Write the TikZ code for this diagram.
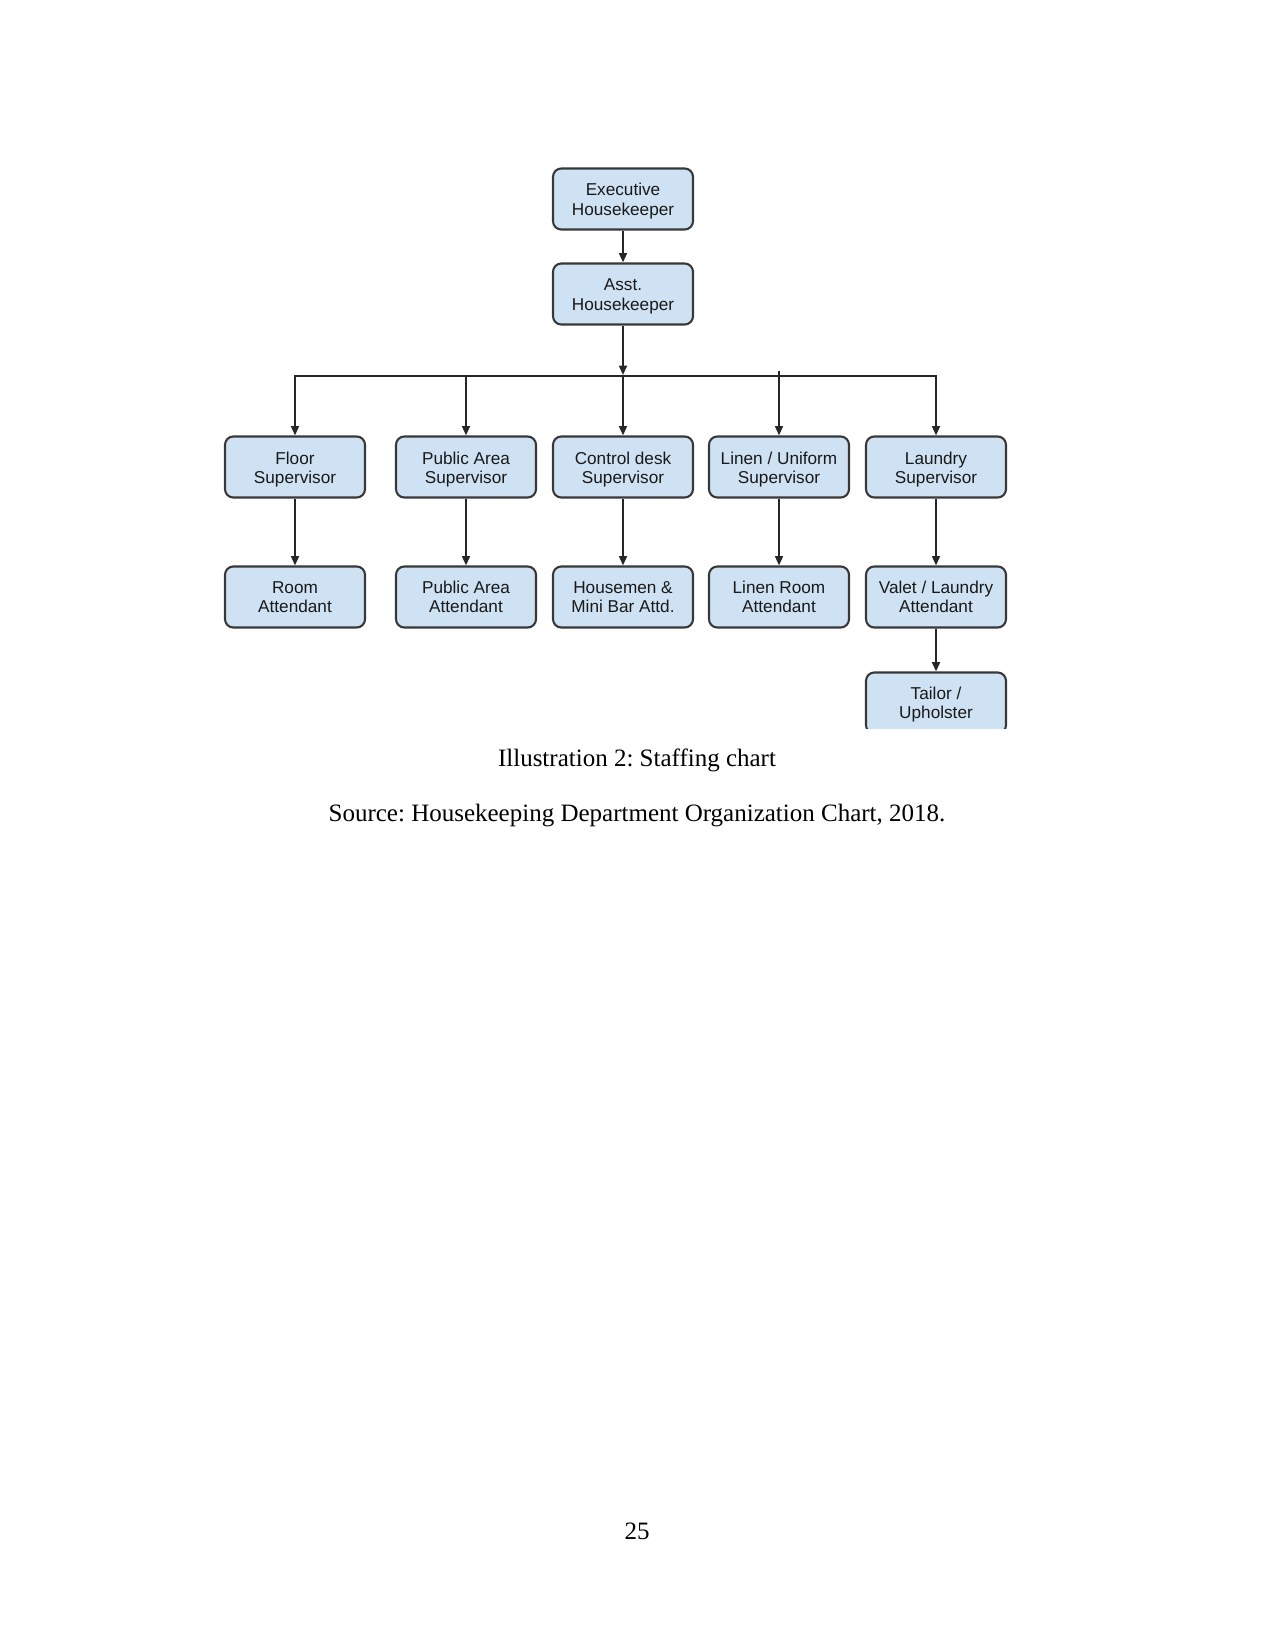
\documentclass[tikz,border=0pt]{standalone}
\usepackage{fontspec}
\setmainfont{Liberation Serif}
\newfontfamily\boxfont{Liberation Sans}
\usetikzlibrary{arrows.meta}
\definecolor{boxfill}{HTML}{CFE2F3}
\definecolor{boxline}{HTML}{383838}
\newcommand\twoline[3][1.2pt]{\raisebox{-#1}[\height][\depth]{\begin{tabular}{@{}c@{}}#2\\#3\end{tabular}}}
\begin{document}
\frenchspacing
\begin{tikzpicture}[x=0.48pt,y=-0.48pt,
  staff/.style={draw=boxline, line width=1pt, fill=boxfill, rounded corners=4pt,
    minimum width=67.2pt, minimum height=29.3pt, inner sep=0pt,
    font=\boxfont\fontsize{8.25}{9.3}\selectfont, text=black!90},
  link/.style={draw=black!85, line width=0.9pt, -{Triangle[length=4.5pt,width=3.8pt]}},
  bus/.style={draw=black!85, line width=0.9pt, line cap=rect},
  txt/.style={anchor=base, inner sep=0pt, font=\fontsize{12}{14}\selectfont}]
\useasboundingbox[fill=white] (0,0) rectangle (1275,1650);

% top
\node[staff] (exec) at (623,199) {\twoline{Executive}{Housekeeper}};
\node[staff] (asst) at (623,294) {\twoline{Asst.}{Housekeeper}};

% supervisors
\node[staff] (floor)  at (295,467) {\twoline[1.4pt]{Floor}{Supervisor}};
\node[staff] (pubsup) at (466,467) {\twoline[1.4pt]{Public Area}{Supervisor}};
\node[staff] (ctrl)   at (623,467) {\twoline[1.4pt]{Control desk}{Supervisor}};
\node[staff] (linsup) at (779,467) {\twoline[1.4pt]{Linen / Uniform}{Supervisor}};
\node[staff] (lausup) at (936,467) {\twoline[1.4pt]{Laundry}{Supervisor}};

% attendants
\node[staff] (room)     at (295,597) {\twoline[1.1pt]{Room}{Attendant}};
\node[staff] (pubatt)   at (466,597) {\twoline[1.1pt]{Public Area}{Attendant}};
\node[staff] (housemen) at (623,597) {\twoline[1.1pt]{Housemen \&}{Mini Bar Attd.}};
\node[staff] (linatt)   at (779,597) {\twoline[1.1pt]{Linen Room}{Attendant}};
\node[staff] (valet)    at (936,597) {\twoline[1.1pt]{Valet / Laundry}{Attendant}};

\begin{scope}
  \clip (850,660) rectangle (1020,728);
  \node[staff] (tailor) at (936,703) {\twoline[1pt]{Tailor /}{Upholster}};
\end{scope}

% bus
\coordinate (j)  at (623,375);
\coordinate (bl) at (295,376);
\coordinate (bp) at (466,376);
\coordinate (lt) at (779,371);
\coordinate (br) at (936,376);
\draw[bus] (bl) -- (br);

\draw[link] (exec) -- (asst);
\draw[link] (asst) -- (j);
\draw[link] (j) -- (ctrl);
\draw[link] (bl) -- (floor);
\draw[link] (bp) -- (pubsup);
\draw[link] (lt) -- (linsup);
\draw[link] (br) -- (lausup);

\draw[link] (floor) -- (room);
\draw[link] (pubsup) -- (pubatt);
\draw[link] (ctrl) -- (housemen);
\draw[link] (linsup) -- (linatt);
\draw[link] (lausup) -- (valet);
\draw[link] (valet) -- (tailor.north);

% captions
\node[txt] (cap) at (637,766) {Illustration 2: Staffing chart};
\node[txt] (src) at (637,821) {Source: Housekeeping Department Organization Chart, 2018.};
\node[txt] (pg)  at (637,1539) {25};
\end{tikzpicture}
\end{document}
